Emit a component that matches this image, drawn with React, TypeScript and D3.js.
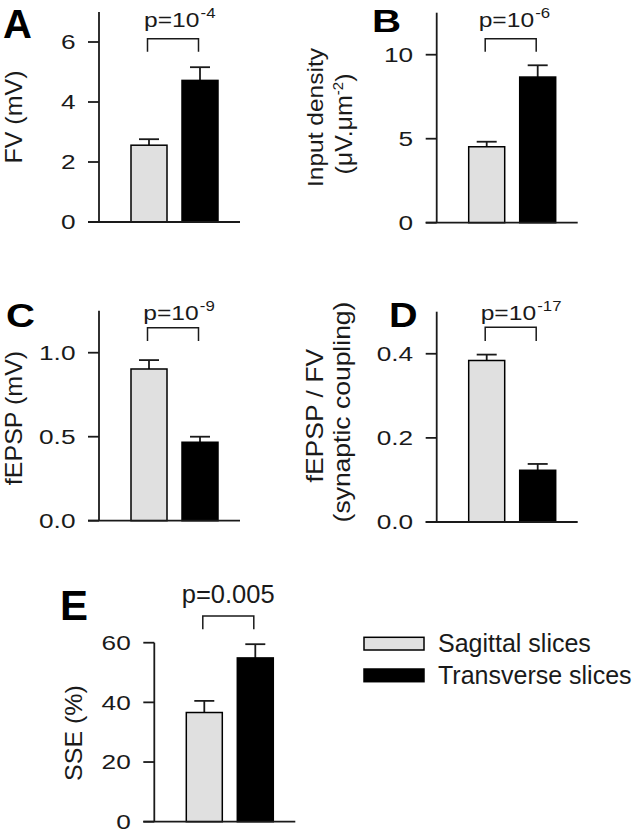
import React from 'react'
import * as d3 from 'd3'

const groups = ['Sagittal slices', 'Transverse slices']
const panelIds = ['A', 'B', 'C', 'D', 'E']
const sagittalMean = [2.56, 4.52, 0.903, 0.384, 36.6]
const sagittalSem = [0.2, 0.3, 0.053, 0.014, 3.9]
const transverseMean = [4.72, 8.67, 0.467, 0.123, 54.9]
const transverseSem = [0.44, 0.7, 0.033, 0.015, 4.6]
const yMax = [7, 12.5, 1.25, 0.5, 60]
const yTicks = [[0, 2, 4, 6], [0, 5, 10], [0, 0.5, 1], [0, 0.2, 0.4], [0, 20, 40, 60]]
const tickFormats = ['d', 'd', '.1f', '.1f', 'd']
const pText = ['p=10', 'p=10', 'p=10', 'p=10', 'p=0.005']
const pExponent = ['-4', '-6', '-9', '-17', '']
// '^' marks a superscript part
const yLabels = [
  ['FV (mV)'],
  ['Input density', '(μV.μm^-2^)'],
  ['fEPSP (mV)'],
  ['fEPSP / FV', '(synaptic coupling)'],
  ['SSE (%)'],
]

const FONT = '"Liberation Sans", Arial, Helvetica, sans-serif'
const INK = '#1a1a1a'
const GRAY = '#e0e0e0'

// page positions of each panel
const layout = [
  {
    ax: 99, y0: 222, yTop: 12, brY: 38.7, legY: 51.7, pY: 27.3, pX: 45, pSize: 20.5, pSx: 1.2,
    letter: { x: 3, y: 38, size: 40, sx: 1 },
    labels: [{ x: 21.7, y: 117, size: 25 }],
  },
  {
    ax: 436.7, y0: 222.7, yTop: 12.7, brY: 38.7, legY: 51.7, pY: 27, pX: 42, pSize: 20.5, pSx: 1.2,
    letter: { x: 372, y: 32.3, size: 31, sx: 1.3 },
    labels: [{ x: 323.3, y: 117.5, size: 24.5 }, { x: 352, y: 124, size: 25 }],
  },
  {
    ax: 99, y0: 520.7, yTop: 310.7, brY: 327.7, legY: 341, pY: 320, pX: 44.3, pSize: 20.5, pSx: 1.2,
    letter: { x: 6, y: 327, size: 34, sx: 1.18 },
    labels: [{ x: 21.7, y: 418, size: 25 }],
  },
  {
    ax: 436.7, y0: 522, yTop: 311.7, brY: 327.3, legY: 341, pY: 320, pX: 44, pSize: 20.5, pSx: 1.2,
    letter: { x: 389, y: 327, size: 35, sx: 1.13 },
    labels: [{ x: 323.3, y: 415.7, size: 26.5 }, { x: 350, y: 412, size: 26.5 }],
  },
  {
    ax: 154.3, y0: 821.7, yTop: 642.7, brY: 616, legY: 629.3, pY: 602.7, pX: 27.4, pSize: 25.5, pSx: 1,
    letter: { x: 60, y: 620, size: 42, sx: 1 },
    labels: [{ x: 82, y: 733, size: 25 }],
  },
]

const LabelLine = ({ text, x, y, size }: { text: string; x: number; y: number; size: number }) => {
  const parts = text.split('^')
  return (
    <text
      transform={`translate(${x},${y}) rotate(-90) scale(1,0.92)`}
      textAnchor="middle"
      fontSize={size}
      fontFamily={FONT}
      fill={INK}
    >
      {parts.map((p, i) => (
        <tspan
          key={i}
          fontSize={i % 2 ? size * 0.6 : size}
          dy={i === 0 ? 0 : i % 2 ? -size * 0.38 : size * 0.38}
        >
          {p}
        </tspan>
      ))}
    </text>
  )
}

const Panel = ({ i }: { i: number }) => {
  const L = layout[i]
  const x = d3.scaleBand<string>().domain(groups).range([L.ax + 32, L.ax + 119]).paddingInner(15 / 51)
  const y = d3.scaleLinear().domain([0, yMax[i]]).range([L.y0, L.yTop])
  const fmt = d3.format(tickFormats[i])
  const means = [sagittalMean[i], transverseMean[i]]
  const sems = [sagittalSem[i], transverseSem[i]]
  const bw = x.bandwidth()
  const cx = (g: string) => (x(g) as number) + bw / 2
  const tickLen = 11

  return (
    <g>
      {/* bars */}
      {groups.map((g, k) => (
        <g key={g}>
          <line
            x1={cx(g)} x2={cx(g)} y1={y(means[k])} y2={y(means[k] + sems[k])}
            stroke={INK} strokeWidth={1.8}
          />
          <line
            x1={cx(g) - 10} x2={cx(g) + 10} y1={y(means[k] + sems[k])} y2={y(means[k] + sems[k])}
            stroke={INK} strokeWidth={1.8}
          />
          <rect
            x={x(g)} y={y(means[k])} width={bw} height={L.y0 - y(means[k])}
            fill={k === 0 ? GRAY : '#000'} stroke="#000" strokeWidth={1.5}
          />
        </g>
      ))}

      {/* axes */}
      <line x1={L.ax} x2={L.ax} y1={L.yTop} y2={L.y0} stroke={INK} strokeWidth={1.8} />
      <line x1={L.ax - tickLen} x2={L.ax + 141} y1={L.y0} y2={L.y0} stroke={INK} strokeWidth={1.8} />
      {yTicks[i].map((t) => (
        <g key={t}>
          <line x1={L.ax - tickLen} x2={L.ax} y1={y(t)} y2={y(t)} stroke={INK} strokeWidth={1.8} />
          <text
            transform={`translate(${L.ax - 23.5},${y(t) + 7.4}) scale(1.28,1)`}
            textAnchor="end" fontSize={20.5} fontFamily={FONT} fill={INK}
          >
            {fmt(t)}
          </text>
        </g>
      ))}

      {/* significance bracket */}
      <path
        d={`M${cx(groups[0]) - 1.5},${L.legY}V${L.brY}H${cx(groups[1]) - 1.5}V${L.legY}`}
        fill="none" stroke={INK} strokeWidth={1.5}
      />
      <text
        transform={`translate(${L.ax + L.pX},${L.pY}) scale(${L.pSx},1)`}
        fontSize={L.pSize} fontFamily={FONT} fill={INK}
      >
        {pText[i]}
        {pExponent[i] && (
          <tspan fontSize={14} dy={-9} dx={1}>{pExponent[i]}</tspan>
        )}
      </text>

      {/* axis title */}
      {yLabels[i].map((line, k) => (
        <LabelLine key={k} text={line} x={L.labels[k].x} y={L.labels[k].y} size={L.labels[k].size} />
      ))}

      {/* panel letter */}
      <text
        transform={`translate(${L.letter.x},${L.letter.y}) scale(${L.letter.sx},1)`}
        fontSize={L.letter.size} fontWeight="bold" fontFamily={FONT} fill="#000"
      >
        {panelIds[i]}
      </text>
    </g>
  )
}

const App = () => (
  <svg
    width={640}
    height={831}
    style={{ position: 'absolute', left: 0, top: 0, background: '#fff' }}
  >
    {panelIds.map((p, i) => <Panel key={p} i={i} />)}

    {/* legend */}
    {groups.map((g, k) => (
      <g key={g}>
        <rect
          x={364} y={637.3 + k * 31.7} width={60} height={12.7}
          fill={k === 0 ? GRAY : '#000'} stroke="#000" strokeWidth={1.5}
        />
        <text x={438} y={652 + k * 32} fontSize={25} fontFamily={FONT} fill={INK}>{g}</text>
      </g>
    ))}
  </svg>
)

export default App
